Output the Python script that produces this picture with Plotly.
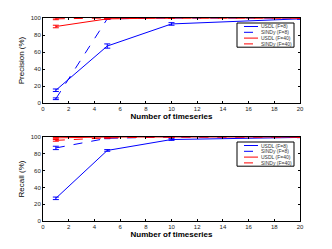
import plotly.graph_objects as go

x_vals = [1, 5, 10, 20]

prec_usdl8 = [15, 67, 93, 99]
prec_usdl8_err = [1.5, 2.5, 1.5, 0.5]
prec_sindy8 = [5, 99, 100, 100]
prec_sindy8_err = [1.0, 0.5, 0, 0]
prec_usdl40 = [90, 99, 100, 100]
prec_usdl40_err = [1.5, 0.5, 0, 0]
prec_sindy40 = [99, 100, 100, 100]
prec_sindy40_err = [1.0, 0, 0, 0]

rec_usdl8 = [27, 84, 97, 99.5]
rec_usdl8_err = [1.5, 1.0, 1.0, 0.3]
rec_sindy8 = [87, 98.5, 100, 100]
rec_sindy8_err = [2.0, 0.5, 0, 0]
rec_usdl40 = [99, 100, 100, 100]
rec_usdl40_err = [0.5, 0, 0, 0]
rec_sindy40 = [96, 99, 100, 100]
rec_sindy40_err = [1.0, 0.5, 0, 0]

names = ["USDL (F=8)", "SINDy (F=8)", "USDL (F=40)", "SINDy (F=40)"]
colors = ["blue", "blue", "red", "red"]
dashes = ["solid", "dash", "solid", "dash"]

# page body has an 8px default margin; figure is sized to fit the window
OFF = 8
W, H = 332 - OFF, 249 - OFF
fig = go.Figure()

top = [(prec_usdl8, prec_usdl8_err), (prec_sindy8, prec_sindy8_err),
       (prec_usdl40, prec_usdl40_err), (prec_sindy40, prec_sindy40_err)]
bot = [(rec_usdl8, rec_usdl8_err), (rec_sindy8, rec_sindy8_err),
       (rec_usdl40, rec_usdl40_err), (rec_sindy40, rec_sindy40_err)]

for i, (y, e) in enumerate(top):
    fig.add_trace(go.Scatter(x=x_vals, y=y, mode="lines", name=names[i], showlegend=False,
                             line=dict(color=colors[i], dash=dashes[i], width=1),
                             error_y=dict(type="data", array=e, color=colors[i], thickness=1, width=3),
                             xaxis="x", yaxis="y"))
for i, (y, e) in enumerate(bot):
    fig.add_trace(go.Scatter(x=x_vals, y=y, mode="lines", name=names[i], showlegend=False,
                             line=dict(color=colors[i], dash=dashes[i], width=1),
                             error_y=dict(type="data", array=e, color=colors[i], thickness=1, width=3),
                             xaxis="x2", yaxis="y2"))

# window-pixel positions -> paper coords
def px(x):
    return (x - OFF) / W

def py(y):
    return 1 - (y - OFF) / H

shapes = []
annotations = []
step = 5.8
for (by0, first) in [(23, 26.5), (142, 145.5)]:
    ys = [first + k * step for k in range(4)]
    by1 = ys[-1] + 3.3
    shapes.append(dict(type="rect", xref="paper", yref="paper", x0=px(237), x1=px(294),
                       y0=py(by1), y1=py(by0), line=dict(color="black", width=1),
                       fillcolor="white", layer="above"))
    for i, yy in enumerate(ys):
        shapes.append(dict(type="line", xref="paper", yref="paper", x0=px(244), x1=px(258),
                           y0=py(yy), y1=py(yy), line=dict(color=colors[i], dash=dashes[i], width=1),
                           layer="above"))
        annotations.append(dict(xref="paper", yref="paper", x=px(259.5), y=py(yy), text=names[i],
                                showarrow=False, xanchor="left", yanchor="middle",
                                borderpad=0, font=dict(size=5, color="#333")))

axis_common = dict(showline=True, linecolor="black", linewidth=1, mirror="ticks",
                   ticks="inside", ticklen=2, tickcolor="black", showgrid=False,
                   zeroline=False, automargin=False, tickfont=dict(size=6, color="#222"))
xdom = [px(43), px(300)]
fig.update_layout(
    width=W, height=H,
    margin=dict(l=0, r=0, t=0, b=0, autoexpand=False),
    paper_bgcolor="white", plot_bgcolor="white",
    font=dict(family="Liberation Sans, Arial, sans-serif", color="black"),
    showlegend=False,
    shapes=shapes, annotations=annotations,
    xaxis=dict(domain=xdom, range=[0, 20], dtick=2, anchor="y",
               title=dict(text="<b>Number of timeseries</b>", font=dict(size=8), standoff=1), **axis_common),
    yaxis=dict(domain=[py(103), py(18)], range=[0, 100], dtick=20, anchor="x",
               title=dict(text="Precision (%)", font=dict(size=8), standoff=4), **axis_common),
    xaxis2=dict(domain=xdom, range=[0, 20], dtick=2, anchor="y2",
                title=dict(text="<b>Number of timeseries</b>", font=dict(size=8), standoff=1), **axis_common),
    yaxis2=dict(domain=[py(221), py(137)], range=[0, 100], dtick=20, anchor="x2",
                title=dict(text="Recall (%)", font=dict(size=8), standoff=4), **axis_common),
)

fig.write_html("out.html")
